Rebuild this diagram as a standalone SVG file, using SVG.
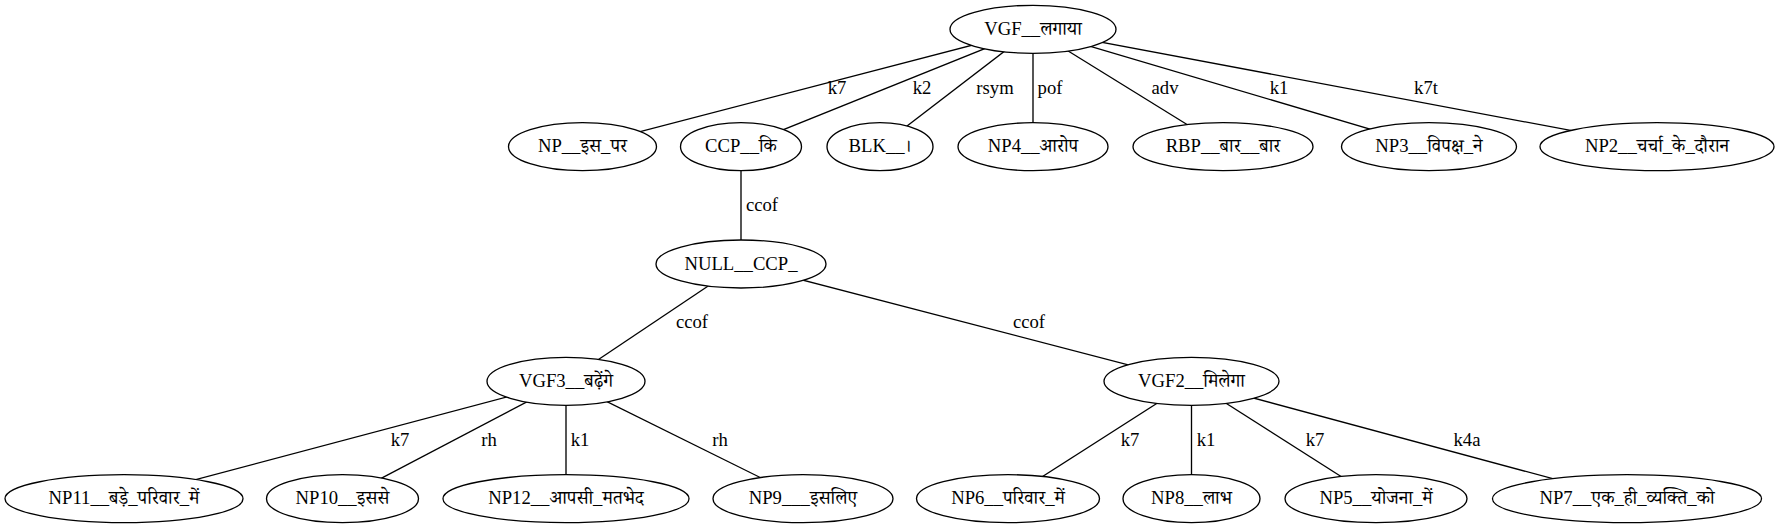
<svg xmlns="http://www.w3.org/2000/svg" width="1779" height="528" viewBox="0 0 1779 528">
<style>
  .n ellipse { fill: #ffffff; stroke: #000000; stroke-width: 1.33; }
  text { font-family: "Liberation Serif", "Noto Serif Devanagari", "Noto Sans Devanagari", "Noto Sans", serif; font-size: 18.67px; fill: #000000; text-anchor: middle; }
  .e line { stroke: #000000; stroke-width: 1.33; }
</style>
<rect x="0" y="0" width="1779" height="528" fill="#ffffff"/>
<g id="connectors" class="e">
  <line x1="1033" y1="29.3" x2="582.5" y2="146.7"/>
  <line x1="1033" y1="29.3" x2="741" y2="146.7"/>
  <line x1="1033" y1="29.3" x2="880" y2="146.7"/>
  <line x1="1033" y1="29.3" x2="1033" y2="146.7"/>
  <line x1="1033" y1="29.3" x2="1223" y2="146.7"/>
  <line x1="1033" y1="29.3" x2="1429" y2="146.7"/>
  <line x1="1033" y1="29.3" x2="1657" y2="146.7"/>
  <line x1="741" y1="146.7" x2="741" y2="264"/>
  <line x1="741" y1="264" x2="566" y2="381.3"/>
  <line x1="741" y1="264" x2="1191.5" y2="381.3"/>
  <line x1="566" y1="381.3" x2="124" y2="498.7"/>
  <line x1="566" y1="381.3" x2="342.5" y2="498.7"/>
  <line x1="566" y1="381.3" x2="566" y2="498.7"/>
  <line x1="566" y1="381.3" x2="803" y2="498.7"/>
  <line x1="1191.5" y1="381.3" x2="1008" y2="498.7"/>
  <line x1="1191.5" y1="381.3" x2="1191.5" y2="498.7"/>
  <line x1="1191.5" y1="381.3" x2="1376" y2="498.7"/>
  <line x1="1191.5" y1="381.3" x2="1627" y2="498.7"/>
  <text x="837" y="93.6">k7</text>
  <text x="922" y="93.6">k2</text>
  <text x="995" y="93.6">rsym</text>
  <text x="1050" y="93.6">pof</text>
  <text x="1165" y="93.6">adv</text>
  <text x="1279" y="93.6">k1</text>
  <text x="1426" y="93.6">k7t</text>
  <text x="762" y="211">ccof</text>
  <text x="692" y="328.3">ccof</text>
  <text x="1029" y="328.3">ccof</text>
  <text x="400" y="445.6">k7</text>
  <text x="489" y="445.6">rh</text>
  <text x="580" y="445.6">k1</text>
  <text x="720" y="445.6">rh</text>
  <text x="1130" y="445.6">k7</text>
  <text x="1206" y="445.6">k1</text>
  <text x="1315" y="445.6">k7</text>
  <text x="1467" y="445.6">k4a</text>
</g>
<g id="n0" class="n"><ellipse cx="1033" cy="29.3" rx="83" ry="24"/><text x="1033" y="34.9">VGF__लगाया</text></g>
<g id="n1" class="n"><ellipse cx="582.5" cy="146.7" rx="74" ry="24"/><text x="582.5" y="152.3">NP__इस_पर</text></g>
<g id="n2" class="n"><ellipse cx="741" cy="146.7" rx="60.5" ry="24"/><text x="741" y="152.3">CCP__कि</text></g>
<g id="n3" class="n"><ellipse cx="880" cy="146.7" rx="53" ry="24"/><text x="880" y="152.3">BLK__।</text></g>
<g id="n4" class="n"><ellipse cx="1033" cy="146.7" rx="75" ry="24"/><text x="1033" y="152.3">NP4__आरोप</text></g>
<g id="n5" class="n"><ellipse cx="1223" cy="146.7" rx="90" ry="24"/><text x="1223" y="152.3">RBP__बार__बार</text></g>
<g id="n6" class="n"><ellipse cx="1429" cy="146.7" rx="87.5" ry="24"/><text x="1429" y="152.3">NP3__विपक्ष_ने</text></g>
<g id="n7" class="n"><ellipse cx="1657" cy="146.7" rx="117" ry="24"/><text x="1657" y="152.3">NP2__चर्चा_के_दौरान</text></g>
<g id="n8" class="n"><ellipse cx="741" cy="264" rx="85" ry="24"/><text x="741" y="269.6">NULL__CCP_</text></g>
<g id="n9" class="n"><ellipse cx="566" cy="381.3" rx="79" ry="24"/><text x="566" y="386.9">VGF3__बढ़ेंगे</text></g>
<g id="n10" class="n"><ellipse cx="1191.5" cy="381.3" rx="87.5" ry="24"/><text x="1191.5" y="386.9">VGF2__मिलेगा</text></g>
<g id="n11" class="n"><ellipse cx="124" cy="498.7" rx="119" ry="24"/><text x="124" y="504.3">NP11__बड़े_परिवार_में</text></g>
<g id="n12" class="n"><ellipse cx="342.5" cy="498.7" rx="76" ry="24"/><text x="342.5" y="504.3">NP10__इससे</text></g>
<g id="n13" class="n"><ellipse cx="566" cy="498.7" rx="123" ry="24"/><text x="566" y="504.3">NP12__आपसी_मतभेद</text></g>
<g id="n14" class="n"><ellipse cx="803" cy="498.7" rx="90" ry="24"/><text x="803" y="504.3">NP9___इसलिए</text></g>
<g id="n15" class="n"><ellipse cx="1008" cy="498.7" rx="91.5" ry="24"/><text x="1008" y="504.3">NP6__परिवार_में</text></g>
<g id="n16" class="n"><ellipse cx="1191.5" cy="498.7" rx="68.5" ry="24"/><text x="1191.5" y="504.3">NP8__लाभ</text></g>
<g id="n17" class="n"><ellipse cx="1376" cy="498.7" rx="91" ry="24"/><text x="1376" y="504.3">NP5__योजना_में</text></g>
<g id="n18" class="n"><ellipse cx="1627" cy="498.7" rx="134.5" ry="24"/><text x="1627" y="504.3">NP7__एक_ही_व्यक्ति_को</text></g>
</svg>
